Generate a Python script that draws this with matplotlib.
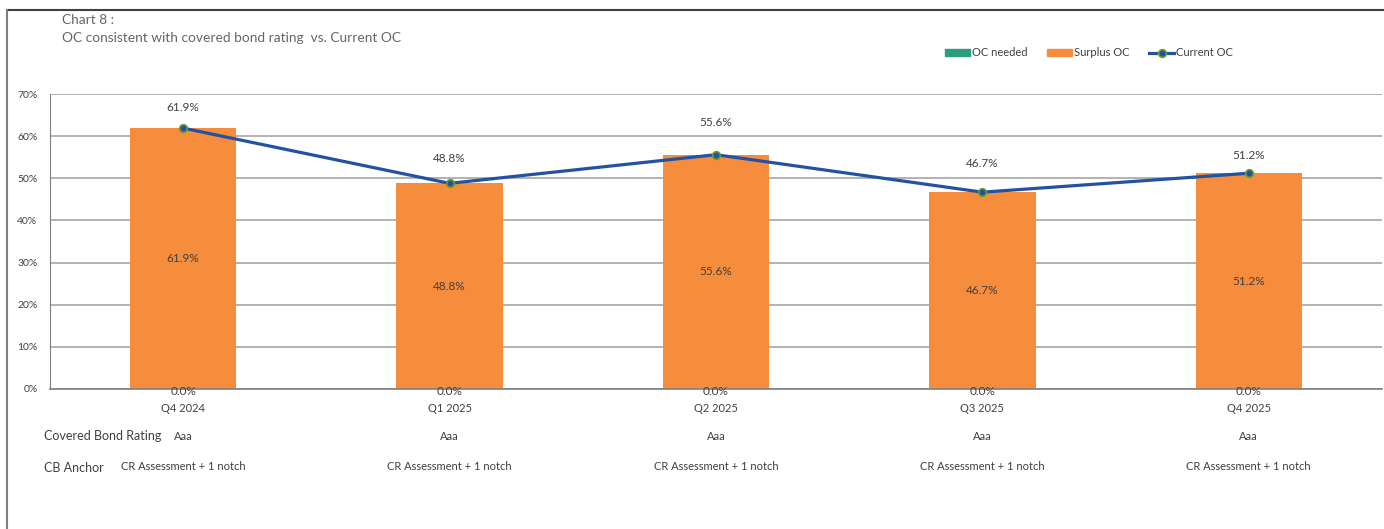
import matplotlib.pyplot as plt
from matplotlib.lines import Line2D
from matplotlib.patches import Patch

# data
quarters = ['Q4 2024', 'Q1 2025', 'Q2 2025', 'Q3 2025', 'Q4 2025']
oc_needed = [0.0, 0.0, 0.0, 0.0, 0.0]
current_oc = [61.9, 48.8, 55.6, 46.7, 51.2]
surplus_oc = [c - n for c, n in zip(current_oc, oc_needed)]
ratings = ['Aaa', 'Aaa', 'Aaa', 'Aaa', 'Aaa']
anchors = ['CR Assessment + 1 notch'] * 5

# label offsets above the line points (points), as placed in the original
label_off = [14.5, 18, 23.5, 21, 13]

plt.rcParams['font.family'] = ['Lato', 'DejaVu Sans']
txt = '#404040'
green = '#2A9D7F'
orange = '#F58D3C'
blue = '#2352A5'

fig = plt.figure(figsize=(13.84, 5.29), dpi=100)
W, H = 1384, 529
ax = fig.add_axes([50 / W, 1 - 389 / H, 1332 / W, 295 / H])

x = list(range(len(quarters)))
ax.bar(x, oc_needed, width=0.4, color=green, zorder=2)
ax.bar(x, surplus_oc, width=0.4, bottom=oc_needed, color=orange, zorder=2)
ax.plot(x, current_oc, color=blue, lw=2.3, marker='o', ms=5.5,
        mfc=blue, mec='#6A9E2A', mew=1.2, zorder=4)

for i in x:
    ax.annotate(f'{current_oc[i]:.1f}%', (i, current_oc[i]), xytext=(0, label_off[i]),
                textcoords='offset points', ha='center', va='center',
                fontsize=8.5, color=txt)
    ax.text(i, oc_needed[i] + surplus_oc[i] / 2, f'{surplus_oc[i]:.1f}%',
            ha='center', va='center', fontsize=8.5, color=txt, zorder=5)
    ax.annotate(f'{oc_needed[i]:.1f}%', (i, oc_needed[i]), xytext=(0, -1.5),
                textcoords='offset points', ha='center', va='center',
                fontsize=8.5, color=txt, zorder=5)

ax.set_xlim(-0.5, 4.5)
ax.set_ylim(0, 70)
ax.set_yticks(range(0, 71, 10))
ax.set_yticklabels([f'{v}%' for v in range(0, 71, 10)])
ax.set_xticks(x)
ax.set_xticklabels(quarters)
ax.tick_params(axis='both', length=0, labelsize=7.5, labelcolor=txt)
ax.tick_params(axis='x', pad=10, labelsize=8)
ax.tick_params(axis='y', pad=9)
ax.grid(axis='y', color='#A6A6A6', lw=1.2, zorder=0)
for s in ['top', 'right']:
    ax.spines[s].set_visible(False)
ax.spines['left'].set_color('#7F7F7F')
ax.spines['bottom'].set_color('#7F7F7F')
ax.spines['bottom'].set_linewidth(1.2)

# table rows under the chart
for i in x:
    ax.text(i, -11.2, ratings[i], ha='center', va='center', fontsize=8,
            color=txt, clip_on=False)
    ax.text(i, -18.4, anchors[i], ha='center', va='center', fontsize=8,
            color=txt, clip_on=False)
fig.text(44 / W, 1 - 436 / H, 'Covered Bond Rating', ha='left', va='center',
         fontsize=9, color=txt)
fig.text(44 / W, 1 - 468 / H, 'CB Anchor', ha='left', va='center',
         fontsize=9, color=txt)

# title
fig.text(62 / W, 1 - 20 / H, 'Chart 8 :', ha='left', va='center',
         fontsize=9.9, color='#666666')
fig.text(62 / W, 1 - 38 / H, 'OC consistent with covered bond rating  vs. Current OC',
         ha='left', va='center', fontsize=9.9, color='#666666')

# legend
handles = [Patch(color=green), Patch(color=orange),
           Line2D([], [], color=blue, lw=2.3, marker='o', ms=5.5, mfc=blue,
                  mec='#6A9E2A', mew=1.2)]
fig.legend(handles, ['OC needed', 'Surplus OC', 'Current OC'], loc='center',
           bbox_to_anchor=(1089 / W, 1 - 53 / H), ncol=3, frameon=False,
           fontsize=8, labelcolor=txt, handlelength=2.2, handleheight=0.6,
           handletextpad=0.2, columnspacing=1.8)

# frame border
fig.add_artist(Line2D([7 / W, 1], [1 - 10 / H, 1 - 10 / H], color='#404040', lw=1.5))
fig.add_artist(Line2D([7 / W, 7 / W], [0, 1 - 10 / H], color='#7F7F7F', lw=1.5))

fig.savefig('out.png', dpi=100)
